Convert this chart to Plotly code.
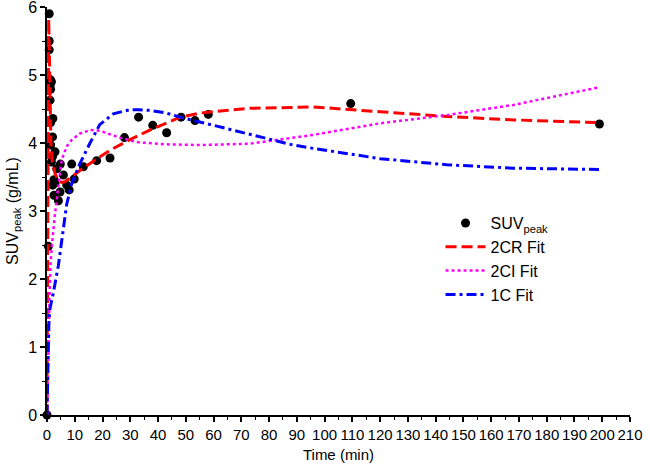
import plotly.graph_objects as go

# Measured SUVpeak data
obs_time = [0, 0.5, 0.8, 0.8, 0.8, 1.2, 1.6, 1.1, 1.3, 1.1, 2.1, 1.3, 2.0, 1.3, 2.9, 2.0, 1.6,
            4.8, 3.5, 5.9, 2.5, 2.9, 2.0, 7.1, 8.0, 4.7, 2.5, 4.1, 8.9, 9.8, 13.1, 17.9, 22.7,
            27.9, 33.0, 38.1, 43.1, 48.3, 53.3, 58.1, 109.4, 199.0]
obs_suv = [0, 2.48, 5.9, 5.5, 5.37, 4.93, 4.9, 4.85, 4.79, 4.63, 4.36, 4.30, 4.09, 3.97, 3.87, 3.80, 3.72,
           3.69, 3.62, 3.53, 3.46, 3.41, 3.38, 3.38, 3.31, 3.28, 3.23, 3.15, 3.69, 3.47, 3.65, 3.74, 3.78,
           4.08, 4.38, 4.26, 4.15, 4.38, 4.33, 4.42, 4.58, 4.28]

# 2CR fit
fit2cr_t = [0, 0.2, 0.4, 0.6, 0.9, 1.1, 1.4, 1.8, 2.9, 4.1, 5.3, 6.5, 8, 12, 18, 23, 29, 37, 48, 55,
            73, 90, 96, 120, 144, 168, 199]
fit2cr_y = [0, 2.5, 5.0, 5.82, 5.2, 4.4, 4.0, 3.75, 3.55, 3.45, 3.42, 3.43, 3.48, 3.6, 3.77, 3.9, 4.03,
            4.19, 4.38, 4.44, 4.51, 4.53, 4.53, 4.46, 4.39, 4.34, 4.30]

# 2CI fit
fit2ci_t = [0, 0.5, 1.0, 1.3, 1.7, 2.9, 3.7, 5.3, 7.1, 9, 11.9, 15.5, 19, 26, 33, 43, 55, 73, 89, 96,
            120, 144, 168, 199]
fit2ci_y = [0, 1.2, 1.9, 2.23, 2.47, 2.97, 3.25, 3.75, 3.95, 4.05, 4.14, 4.19, 4.18, 4.08, 4.01, 3.98,
            3.97, 3.99, 4.08, 4.12, 4.29, 4.41, 4.56, 4.82]

# 1C fit
fit1c_t = [0, 0.3, 0.7, 1.1, 2.3, 4.1, 5.9, 7.1, 8.9, 11.9, 15.5, 19, 23.9, 29.9, 33, 37, 43, 48, 55,
           73, 88.7, 96, 120, 144, 168, 199]
fit1c_y = [0, 0.8, 1.4, 1.57, 1.8, 2.2, 2.7, 3.1, 3.4, 3.7, 4.0, 4.27, 4.43, 4.49, 4.49, 4.48, 4.44,
           4.38, 4.31, 4.13, 3.97, 3.92, 3.77, 3.68, 3.63, 3.61]

x_ticks = list(range(0, 211, 10))
y_ticks = list(range(0, 7))

font_family = "Arial, Liberation Sans, sans-serif"

fig = go.Figure()
fig.add_trace(go.Scatter(x=obs_time, y=obs_suv, mode="markers", name="SUV<sub>peak</sub>",
                         marker=dict(color="black", size=9), cliponaxis=False))
fig.add_trace(go.Scatter(x=fit2cr_t, y=fit2cr_y, mode="lines", name="2CR Fit",
                         line=dict(color="#FF0000", width=3, dash="11px,5px"), cliponaxis=False))
fig.add_trace(go.Scatter(x=fit2ci_t, y=fit2ci_y, mode="lines", name="2CI Fit",
                         line=dict(color="#FF00FF", width=2.5, dash="dot"), cliponaxis=False))
fig.add_trace(go.Scatter(x=fit1c_t, y=fit1c_y, mode="lines", name="1C Fit",
                         line=dict(color="#0000FF", width=3, dash="10px,4px,3px,4px"), cliponaxis=False))

fig.update_layout(
    width=650, height=467,
    margin=dict(l=47, r=20, t=7, b=52, autoexpand=False),
    paper_bgcolor="white", plot_bgcolor="white",
    font=dict(family=font_family, size=14, color="black"),
    showlegend=True,
    legend=dict(x=0.675, y=0.512, xanchor="left", yanchor="top", bgcolor="rgba(0,0,0,0)",
                font=dict(size=16), tracegroupgap=0, itemwidth=40),
)
fig.update_xaxes(
    range=[0, 210], tickvals=x_ticks, ticktext=[str(v) for v in x_ticks],
    automargin=False, ticklabeloverflow="allow",
    showline=True, linecolor="black", linewidth=1.5, showgrid=False, zeroline=False,
    ticks="outside", ticklen=5, tickwidth=1.5, tickcolor="black",
    tickfont=dict(size=15),
    minor=dict(dtick=5, ticks="outside", ticklen=3, tickwidth=1.2, tickcolor="black", showgrid=False),
    title=dict(text="Time (min)", font=dict(size=15), standoff=8),
)
fig.update_yaxes(
    range=[0, 6], tickvals=y_ticks, ticktext=[str(v) for v in y_ticks],
    automargin=False, ticklabeloverflow="allow",
    showline=True, linecolor="black", linewidth=1.5, showgrid=False, zeroline=False,
    ticks="outside", ticklen=5, tickwidth=1.5, tickcolor="black",
    tickfont=dict(size=16),
    minor=dict(dtick=0.5, ticks="outside", ticklen=3, tickwidth=1.2, tickcolor="black", showgrid=False),
    title=dict(text="SUV<sub>peak</sub> (g/mL)", font=dict(size=16), standoff=6),
)

fig.write_html("out.html", config={"displayModeBar": False},
               post_script="document.body.style.margin='0';")
